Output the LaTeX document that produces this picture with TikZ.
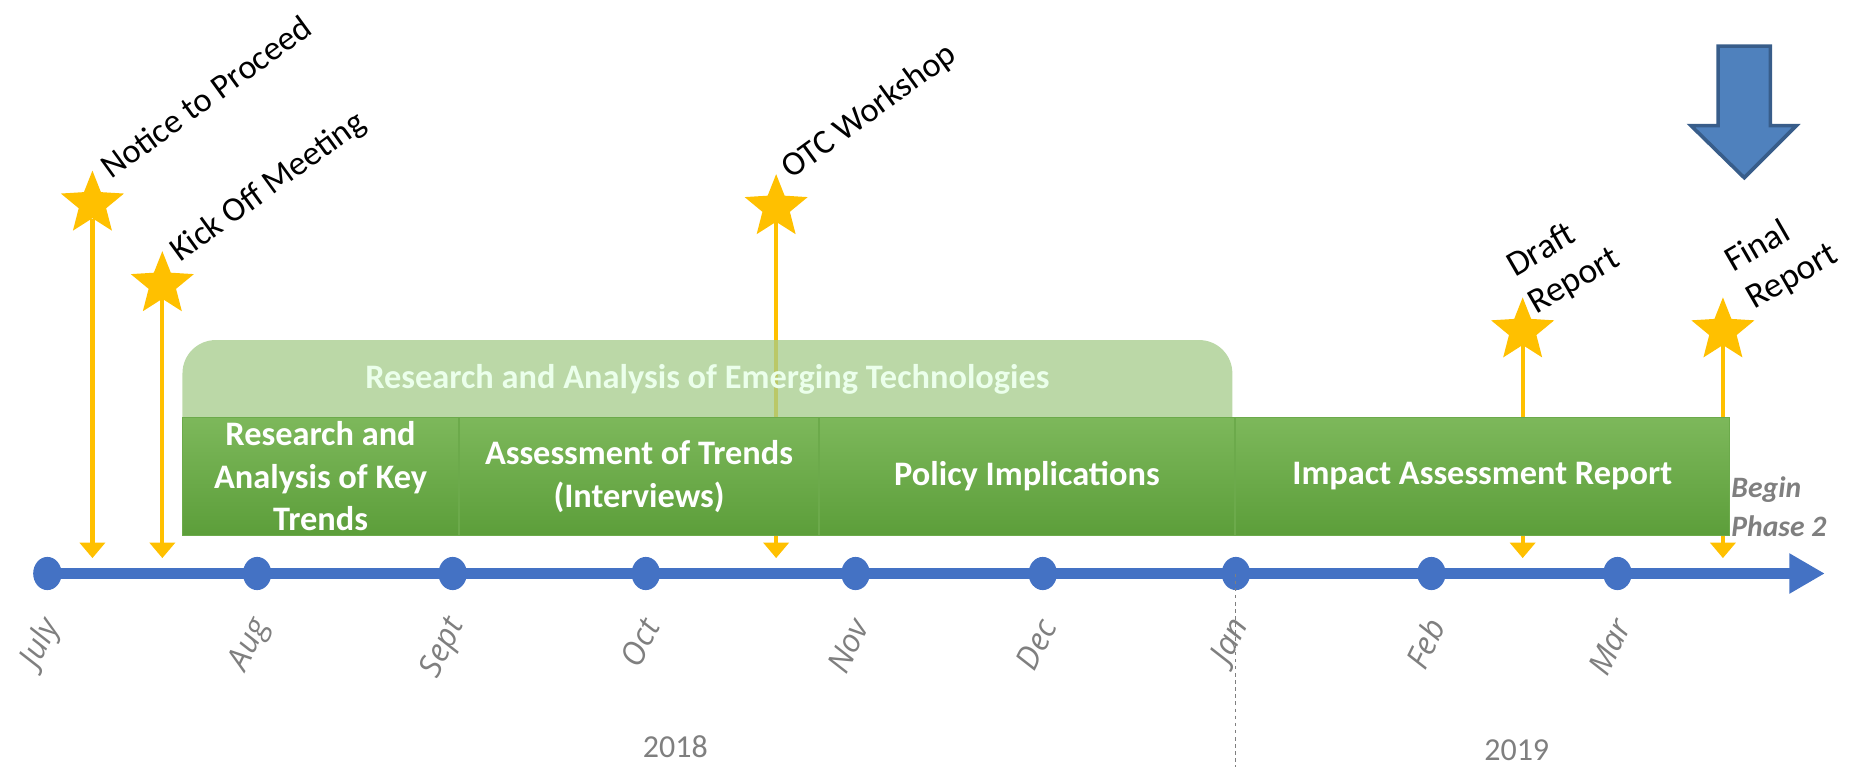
\documentclass[tikz,border=0pt]{standalone}
\usepackage{fontspec}
\setmainfont{Carlito}
\newfontfamily\monthfont{Open Sans}
\usetikzlibrary{shapes.geometric,arrows.meta,positioning}
\definecolor{gold}{HTML}{FFC000}
\definecolor{axisblue}{HTML}{4472C4}
\definecolor{arrowblue}{HTML}{4F81BD}
\definecolor{arrowedge}{HTML}{385D8A}
\definecolor{bartop}{HTML}{7DB85B}
\definecolor{barbot}{HTML}{5C9E3A}
\definecolor{barline}{HTML}{6CAA4B}
\definecolor{paleband}{HTML}{A4CB8A}
\definecolor{greytext}{HTML}{7F7F7F}
\begin{document}
\begin{tikzpicture}[
			x=1pt, y=1pt,
			dot/.style = {ellipse, fill=axisblue, minimum width=24pt, minimum height=28pt, inner sep=0pt},
			monthlabel/.style = {anchor=east, rotate=64, inner sep=0pt, text=greytext, font=\monthfont\itshape\fontsize{27}{32}\selectfont},
			milestone/.style = {star, star points=5, star point ratio=2.3, minimum size=56pt, inner sep=0pt, fill=gold},
			stick/.style = {draw=gold, line width=3.5pt, -{Triangle[width=21pt,length=13pt]}},
			tag/.style = {anchor=base west, rotate=36, inner sep=0pt, font=\fontsize{29}{36}\selectfont},
			report/.style = {anchor=north west, rotate=30, align=left, inner sep=0pt, font=\fontsize{30}{36}\selectfont},
			phase/.style = {minimum height=100pt, inner sep=0pt, align=center, text=white,
				top color=bartop, bottom color=barbot, draw=barline, line width=0.8pt,
				font=\bfseries\fontsize{29}{36}\selectfont},
			]
			\useasboundingbox (0,0) rectangle (1568,647);

			% milestones
			\foreach \n/\x/\y in {np/78/475, ko/137/407, otc/655/472, dr/1285/368, fr/1454/368} {
				\node[milestone] (\n) at (\x,\y) {};
				\coordinate (\n-tip) at (\x,176);
				\draw[stick] (\n) -- (\n-tip);
			}
			\node[tag] at (94,495) {Notice to Proceed};
			\node[tag] at (152,425) {Kick Off Meeting};
			\node[tag] at (668,495) {OTC Workshop};
			\node[report] at (1268,431) {Draft\\Report};
			\node[report] at (1452,435) {Final\\Report};

			% phases
			\fill[paleband, opacity=0.75] (154,295) [rounded corners=28pt] -- (154,360) -- (1040,360) [sharp corners] -- (1040,295) -- cycle;
			\node[text=white!92!green, font=\bfseries\fontsize{29}{36}\selectfont] (band) at (597,327) {Research and Analysis of Emerging Technologies};
			\node[phase, minimum width=233pt] (p1) at (270.5,245) {Research and\\Analysis of Key\\Trends};
			\node[phase, minimum width=303pt, right=0pt of p1] (p2) {Assessment of Trends\\(Interviews)};
			\node[phase, minimum width=350pt, right=0pt of p2] (p3) {Policy Implications};
			\node[phase, minimum width=417pt, right=0pt of p3] (p4) {Impact Assessment Report};
			\node[anchor=west, align=left, inner sep=0pt, text=greytext, font=\bfseries\itshape\fontsize{25}{33}\selectfont]
				(nextphase) at (1461,219) {Begin\\Phase 2};

			% timeline
			\coordinate (end) at (1540,163);
			\draw[axisblue, line width=10pt, -{Triangle[width=32pt,length=30pt]}] (40,163) -- (end);
			\foreach \m/\x [count=\i] in {July/40, Aug/217, Sept/382, Oct/545, Nov/722, Dec/880, Jan/1043, Feb/1208, Mar/1365} {
				\node[dot] (d\i) at (\x,163) {};
				\node[monthlabel] at ([shift={(4pt,-40pt)}]d\i.center) {\m};
			}
			\coordinate (yearsplit) at (1043,0);
			\draw[greytext, dashed, line width=0.8pt] (d7.center) -- (yearsplit);
			\node[text=greytext, font=\fontsize{27}{32}\selectfont] (y2018) at (570,17) {2018};
			\node[text=greytext, font=\fontsize{27}{32}\selectfont] (y2019) at (1280,14) {2019};

			% phase 2 arrow
			\draw[fill=arrowblue, draw=arrowedge, line width=3pt, line join=miter]
				(1450,608) -- (1494,608) -- (1494,541) -- (1516,541) -- (1472,497) -- (1427,541) -- (1450,541) -- cycle;
		\end{tikzpicture}
\end{document}
